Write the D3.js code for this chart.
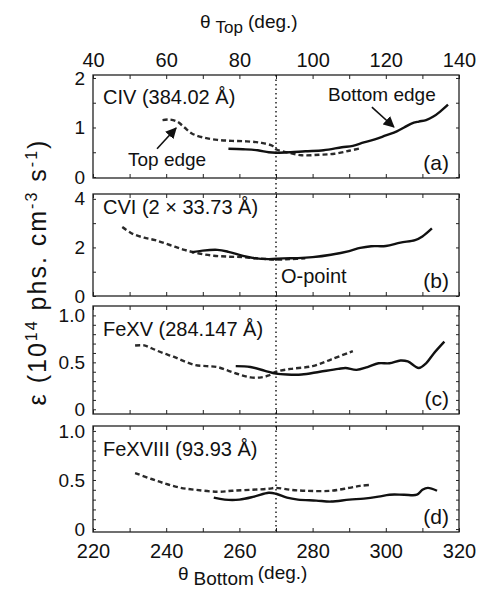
<!DOCTYPE html>
<html>
<head>
<meta charset="utf-8">
<script src="https://cdn.jsdelivr.net/npm/d3@7"></script>
<style>
  body { margin: 0; background: #fff; }
  svg { font-family: "Liberation Sans", Arial, sans-serif; }
</style>
</head>
<body>
<svg id="chart"></svg>
<script>
// theta bottom (deg.) vs emissivity, dashed = top edge, solid = bottom edge
const civTop = [[239,1.15],[241,1.16],[243,1.12],[245,1.0],[247,0.88],[250,0.8],[254,0.75],[258,0.73],[262,0.72],[266,0.69],[269,0.63],[270,0.56],[273,0.5],[277,0.44],[282,0.45],[286,0.47],[290,0.53],[293,0.58]];
const civBottom = [[257,0.57],[261,0.56],[265,0.54],[268,0.5],[270,0.49],[274,0.5],[278,0.52],[283,0.54],[288,0.6],[291,0.63],[294,0.7],[297,0.76],[300,0.84],[303,0.92],[305,1.0],[307,1.08],[309,1.12],[311,1.15],[313,1.22],[315,1.33],[317,1.46]];

const cviTop = [[228,2.84],[231,2.55],[234,2.4],[237,2.3],[241,2.1],[245,1.9],[249,1.75],[253,1.66],[257,1.62],[261,1.6],[265,1.55],[270,1.5],[274,1.52],[278,1.55]];
const cviBottom = [[247,1.8],[250,1.87],[254,1.9],[257,1.82],[261,1.65],[264,1.56],[268,1.52],[272,1.55],[276,1.56],[280,1.6],[285,1.7],[290,1.85],[293,1.98],[296,2.05],[300,2.06],[304,2.2],[308,2.3],[310,2.45],[312.6,2.78]];

const fexvTop = [[231.5,0.68],[234,0.68],[236,0.65],[239,0.6],[242,0.56],[245,0.51],[248,0.47],[251,0.46],[254,0.45],[257,0.41],[260,0.37],[263,0.34],[266,0.34],[268,0.36],[270,0.4],[274,0.43],[280,0.46],[285,0.53],[291,0.62]];
const fexvBottom = [[259,0.46],[263,0.45],[267,0.41],[270,0.38],[273,0.37],[277,0.37],[282,0.4],[287,0.43],[289,0.44],[292,0.42],[295,0.45],[298,0.49],[301,0.49],[304,0.52],[306,0.51],[309,0.44],[311,0.49],[313,0.59],[316,0.72]];

const fexviiiTop = [[231.5,0.57],[236,0.51],[240,0.46],[244,0.42],[248,0.4],[254,0.38],[258,0.39],[263,0.4],[268,0.41],[270,0.42],[274,0.4],[278,0.39],[285,0.39],[290,0.42],[293,0.44],[296,0.45]];
const fexviiiBottom = [[253,0.32],[256,0.3],[260,0.3],[264,0.33],[268,0.37],[270,0.36],[273,0.32],[276,0.3],[281,0.29],[285,0.28],[290,0.3],[294,0.31],[298,0.33],[301,0.35],[305,0.35],[308.5,0.35],[310,0.4],[311.5,0.42],[314,0.39]];

const bottomTicks = [220, 240, 260, 280, 300, 320];
const topTicks = [40, 60, 80, 100, 120, 140];
const xMinor = [220, 230, 240, 250, 260, 270, 280, 290, 300, 310, 320];

const aTicks = [0, 1, 2], aMinor = [0, 0.5, 1, 1.5, 2];
const bTicks = [0, 2, 4], bMinor = [0, 1, 2, 3, 4];
const cTicks = [0, 0.5, 1.0], cMinor = [0, 0.1, 0.2, 0.3, 0.4, 0.5, 0.6, 0.7, 0.8, 0.9, 1.0];
const dTicks = [0, 0.5, 1.0], dMinor = [0, 0.1, 0.2, 0.3, 0.4, 0.5, 0.6, 0.7, 0.8, 0.9, 1.0];

const width = 478, height = 589;
const left = 93, right = 459;

const svg = d3.select('#chart').attr('width', width).attr('height', height);

const x = d3.scaleLinear().domain([220, 320]).range([left, right]);
const xTop = d3.scaleLinear().domain([40, 140]).range([left, right]);

const intFmt = d => String(d);
const decFmt = d => (d === 0 ? '0' : d3.format('.1f')(d));

const panels = [
  { y0: 75, y1: 178, domain: [-0.02, 2.06], ticks: aTicks, minor: aMinor, fmt: intFmt, name: 'CIV (384.02 Å)', nameY: 104, tag: '(a)', dashed: civTop, solid: civBottom },
  { y0: 194, y1: 296, domain: [0, 4.2], ticks: bTicks, minor: bMinor, fmt: intFmt, name: 'CVI (2 × 33.73 Å)', nameY: 214, tag: '(b)', dashed: cviTop, solid: cviBottom },
  { y0: 306, y1: 414, domain: [-0.05, 1.1], ticks: cTicks, minor: cMinor, fmt: decFmt, name: 'FeXV (284.147 Å)', nameY: 336, tag: '(c)', dashed: fexvTop, solid: fexvBottom },
  { y0: 426, y1: 532, domain: [-0.03, 1.05], ticks: dTicks, minor: dMinor, fmt: decFmt, name: 'FeXVIII (93.93 Å)', nameY: 456, tag: '(d)', dashed: fexviiiTop, solid: fexviiiBottom }
];

function styleAxis(g, size) {
  g.select('.domain').remove();
  g.selectAll('.tick line').attr('stroke', '#222').attr('stroke-width', 1);
  g.selectAll('.tick text').attr('fill', '#111').attr('font-size', size || 20);
}

panels.forEach((p, i) => {
  const y = d3.scaleLinear().domain(p.domain).range([p.y1, p.y0]);
  const g = svg.append('g');

  // minor ticks on all sides
  g.append('g').attr('transform', `translate(0,${p.y1})`)
    .call(d3.axisBottom(x).tickValues(xMinor).tickSizeInner(-4).tickFormat(''))
    .call(styleAxis);
  g.append('g').attr('transform', `translate(0,${p.y0})`)
    .call(d3.axisTop(x).tickValues(xMinor).tickSizeInner(-4).tickFormat(''))
    .call(styleAxis);
  g.append('g').attr('transform', `translate(${left},0)`)
    .call(d3.axisLeft(y).tickValues(p.minor).tickSizeInner(-3).tickFormat(''))
    .call(styleAxis);
  g.append('g').attr('transform', `translate(${right},0)`)
    .call(d3.axisRight(y).tickValues(p.minor).tickSizeInner(-3).tickFormat(''))
    .call(styleAxis);

  // y labels
  g.append('g').attr('transform', `translate(${left},0)`)
    .call(d3.axisLeft(y).tickValues(p.ticks).tickSizeInner(0).tickPadding(8).tickFormat(p.fmt))
    .call(styleAxis, 19);

  if (i === 0) {
    g.append('g').attr('transform', `translate(0,${p.y0})`)
      .call(d3.axisTop(xTop).tickValues(topTicks).tickSizeInner(0).tickPadding(8))
      .call(styleAxis);
  }
  if (i === panels.length - 1) {
    g.append('g').attr('transform', `translate(0,${p.y1})`)
      .call(d3.axisBottom(x).tickValues(bottomTicks).tickSizeInner(0).tickPadding(12))
      .call(styleAxis);
  }

  g.append('rect')
    .attr('x', left).attr('y', p.y0)
    .attr('width', right - left).attr('height', p.y1 - p.y0)
    .attr('fill', 'none').attr('stroke', '#222').attr('stroke-width', 1.3);

  const line = d3.line().x(d => x(d[0])).y(d => y(d[1])).curve(d3.curveCatmullRom);

  g.append('path').datum(p.dashed)
    .attr('d', line).attr('fill', 'none')
    .attr('stroke', '#2a2a2a').attr('stroke-width', 2.4)
    .attr('stroke-dasharray', '5,3');

  g.append('path').datum(p.solid)
    .attr('d', line).attr('fill', 'none')
    .attr('stroke', '#111').attr('stroke-width', 2.4);

  g.append('text').attr('x', 103).attr('y', p.nameY)
    .attr('font-size', 20).attr('fill', '#111').text(p.name);

  g.append('text').attr('x', 449).attr('y', p.y1 - 8)
    .attr('text-anchor', 'end').attr('font-size', 21).attr('fill', '#111').text(p.tag);

  p.yScale = y;
});

// O-point dotted line
svg.append('line')
  .attr('x1', x(270)).attr('x2', x(270))
  .attr('y1', panels[0].y0).attr('y2', panels[3].y1)
  .attr('stroke', '#111').attr('stroke-width', 1.4)
  .attr('stroke-dasharray', '1.5,3');

// annotations
svg.append('defs').append('marker')
  .attr('id', 'arrow').attr('viewBox', '0 0 10 10')
  .attr('refX', 9).attr('refY', 5)
  .attr('markerWidth', 7).attr('markerHeight', 7)
  .attr('orient', 'auto-start-reverse')
  .append('path').attr('d', 'M0,0L10,5L0,10Z').attr('fill', '#111');

const ya = panels[0].yScale;
svg.append('line')
  .attr('x1', x(237.5)).attr('y1', ya(0.57))
  .attr('x2', x(242.7)).attr('y2', ya(0.99))
  .attr('stroke', '#111').attr('stroke-width', 1.6).attr('marker-end', 'url(#arrow)');
svg.append('line')
  .attr('x1', x(296.2)).attr('y1', ya(1.41))
  .attr('x2', x(302.2)).attr('y2', ya(1.01))
  .attr('stroke', '#111').attr('stroke-width', 1.6).attr('marker-end', 'url(#arrow)');

svg.append('text').attr('x', 128).attr('y', 166).attr('font-size', 19).attr('fill', '#111').text('Top edge');
svg.append('text').attr('x', 328).attr('y', 101).attr('font-size', 19).attr('fill', '#111').text('Bottom edge');
svg.append('text').attr('x', 281).attr('y', 283).attr('font-size', 20).attr('fill', '#111').text('O-point');

// axis titles
const topTitle = svg.append('text').attr('x', 200).attr('y', 28).attr('font-size', 19).attr('fill', '#111');
topTitle.append('tspan').text('θ');
topTitle.append('tspan').attr('dx', 5).attr('dy', 5).attr('font-size', 17).text('Top');
topTitle.append('tspan').attr('dx', 5).attr('dy', -5).text('(deg.)');

const botTitle = svg.append('text').attr('x', 178).attr('y', 580).attr('font-size', 19).attr('fill', '#111');
botTitle.append('tspan').text('θ');
botTitle.append('tspan').attr('dx', 5).attr('dy', 5).attr('font-size', 19).text('Bottom');
botTitle.append('tspan').attr('dx', 4).attr('dy', -6).text('(deg.)');

const yTitle = svg.append('text')
  .attr('transform', 'translate(46,272) rotate(-90)')
  .attr('text-anchor', 'middle').attr('font-size', 25).attr('fill', '#111')
  .attr('letter-spacing', 2);
yTitle.append('tspan').text('ε (10');
yTitle.append('tspan').attr('dy', -9).attr('font-size', 16).text('14');
yTitle.append('tspan').attr('dy', 9).text(' phs. cm');
yTitle.append('tspan').attr('dy', -9).attr('font-size', 16).text('-3');
yTitle.append('tspan').attr('dy', 9).text(' s');
yTitle.append('tspan').attr('dy', -9).attr('font-size', 16).text('-1');
yTitle.append('tspan').attr('dy', 9).text(')');
</script>
</body>
</html>
